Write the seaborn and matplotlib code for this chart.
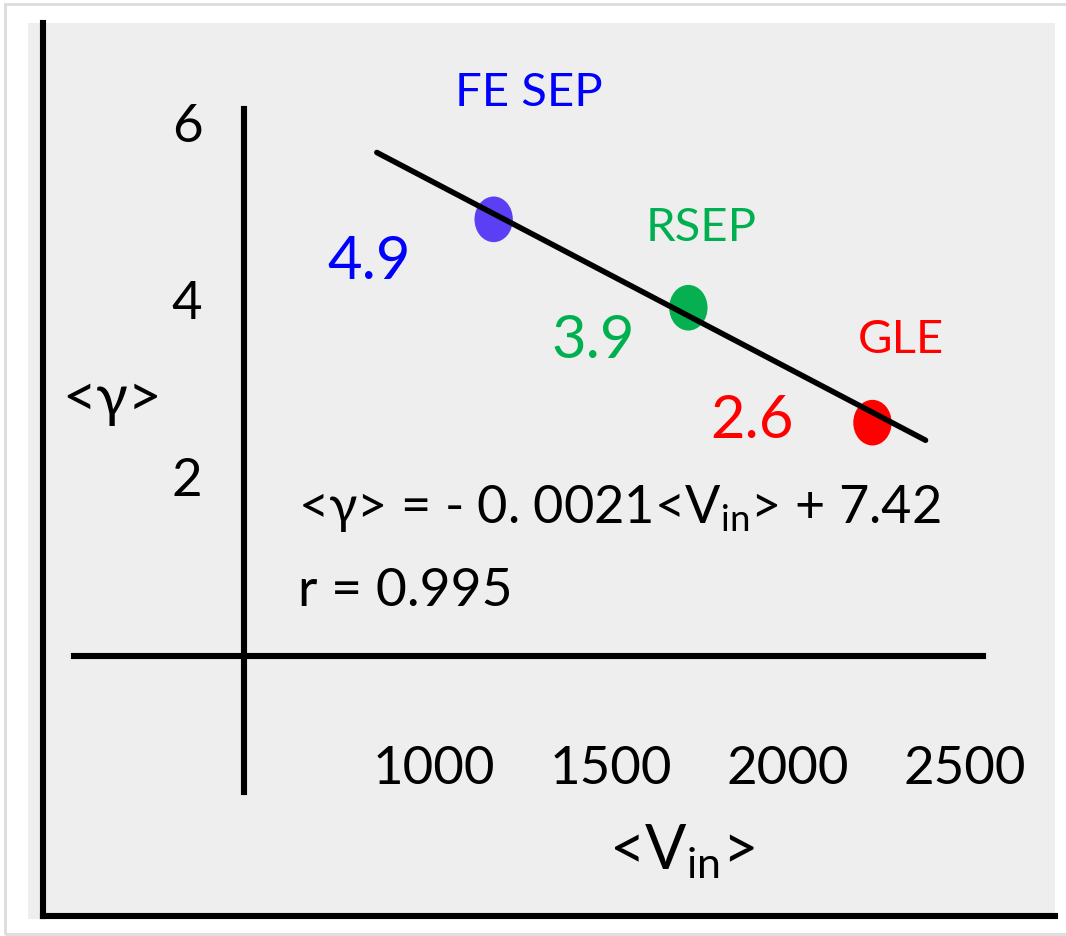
import numpy as np
import pandas as pd
import matplotlib
matplotlib.use("Agg")
import matplotlib.pyplot as plt
import seaborn as sns
from matplotlib.path import Path
from matplotlib.patches import Rectangle

# Mean spectral index <γ> versus mean inflow speed <V_in> for three event classes
events = ["FE SEP", "RSEP", "GLE"]
gamma_mean = [4.9, 3.9, 2.6]
v_in_mean = [1170, 1720, 2240]
point_colors = ["#5a3ff5", "#06b050", "#ff0000"]
text_colors = ["#0000ff", "#00b050", "#ff0000"]

# Linear regression  <γ> = slope * <V_in> + intercept
fit_slope = -0.0021
fit_intercept = 7.42
fit_r = 0.995
fit_v_range = [840, 2390]

x_ticks = [1000, 1500, 2000, 2500]
y_ticks = [2, 4, 6]

# label placement around each point (pixels)
name_offsets = [(35, 127), (13, 81), (28, 84)]
value_offsets = [(-125, -42), (-95, -32), (-120, 3)]

sns.set_theme(style="white")
plt.rcParams["font.family"] = ["Lato", "DejaVu Sans"]
plt.rcParams["mathtext.fontset"] = "custom"
plt.rcParams["mathtext.rm"] = "Lato"
plt.rcParams["mathtext.it"] = "Lato:italic"
plt.rcParams["mathtext.fallback"] = "stixsans"

W, H = 1066, 937
fig = plt.figure(figsize=(W / 100, H / 100), dpi=100, facecolor="white")


def fx(px):
    return px / W


def fy(py):
    return 1 - py / H


# thin page border
fig.add_artist(Rectangle((fx(5), fy(935)), 1.2, fy(5) - fy(935),
                         transform=fig.transFigure, fill=False,
                         edgecolor="#dcdcdc", lw=2.0))

# grey panel with heavy frame on the left and bottom
bg = fig.add_axes([fx(28), fy(920), fx(1055) - fx(28), fy(24) - fy(920)])
bg.set_facecolor("#eeeeee")
bg.set_xlim(0, 1)
bg.set_ylim(0, 1)
bg.set_xticks([])
bg.set_yticks([])
for s in ["top", "right"]:
    bg.spines[s].set_visible(False)
lx = (43 - 28) / (1055 - 28)
ly = (920 - 917) / (920 - 24)
bg.spines["left"].set_position(("data", lx))
bg.spines["left"].set_bounds(ly, 1)
bg.spines["bottom"].set_position(("data", ly))
bg.spines["bottom"].set_bounds(lx, 1)
for s in ["left", "bottom"]:
    bg.spines[s].set_linewidth(4.4)
    bg.spines[s].set_color("black")

# main axes
ax = fig.add_axes([fx(74), fy(793), fx(983) - fx(74), fy(110) - fy(793)])
ax.set_facecolor("none")

df = pd.DataFrame({"event": events, "v_in": v_in_mean, "gamma": gamma_mean})
circle = Path.unit_circle()
ellipse = Path(circle.vertices * np.array([0.84, 1.0]), circle.codes)
sns.scatterplot(data=df, x="v_in", y="gamma", hue="event",
                palette=dict(zip(events, point_colors)), marker=ellipse,
                s=1080, linewidth=0, legend=False, ax=ax, zorder=3)

fit_v = np.array(fit_v_range, dtype=float)
fit_df = pd.DataFrame({"v_in": fit_v, "gamma": fit_slope * fit_v + fit_intercept})
sns.lineplot(data=fit_df, x="v_in", y="gamma", color="black", lw=4.0,
             ax=ax, zorder=4)

for i, ev in enumerate(events):
    ax.annotate(ev, (v_in_mean[i], gamma_mean[i]), xytext=name_offsets[i],
                textcoords="offset pixels", ha="center", va="center",
                fontsize=34, color=text_colors[i])
    ax.annotate(f"{gamma_mean[i]:.1f}", (v_in_mean[i], gamma_mean[i]),
                xytext=value_offsets[i], textcoords="offset pixels",
                ha="center", va="center", fontsize=43, color=text_colors[i])

eq = (f"<γ> = - 0. {abs(fit_slope):.4f}".replace("0.00", "00", 1)
      + r"<V$_{\mathrm{in}}$>" + f" + {fit_intercept:.2f}")
ax.text(0.2464, 0.3953, eq, transform=ax.transAxes, ha="left",
        va="baseline", fontsize=37.6, color="black")
ax.text(0.2464, 0.2738, f"r = {fit_r:.3f}", transform=ax.transAxes,
        ha="left", va="baseline", fontsize=38.5, color="black")

ax.set_xlim(-15.5, 2552.3)
ax.set_ylim(-1.578, 6.148)
ax.set_xticks(x_ticks)
ax.set_xticklabels([str(v) for v in x_ticks])
ax.set_yticks(y_ticks)
ax.set_yticklabels([str(v) for v in y_ticks])
ax.tick_params(axis="x", length=0, pad=64, labelsize=38, colors="black")
ax.tick_params(axis="y", length=0, pad=30, labelsize=38, colors="black")

for s in ["top", "right"]:
    ax.spines[s].set_visible(False)
ax.spines["left"].set_position(("axes", (244 - 74) / (983 - 74)))
ax.spines["bottom"].set_position(("axes", (793 - 657) / (793 - 110)))
for s in ["left", "bottom"]:
    ax.spines[s].set_linewidth(4.4)
    ax.spines[s].set_color("black")

ax.set_xlabel(r"<V$_{\mathrm{in}}$>", fontsize=44, color="black",
              ha="center", va="center")
ax.xaxis.set_label_coords((682 - 74) / (983 - 74), (793 - 852) / (793 - 110))
ax.set_ylabel("<γ>", fontsize=42, rotation=0, color="black",
              ha="center", va="center")
ax.yaxis.set_label_coords((112 - 74) / (983 - 74), (793 - 400) / (793 - 110))

fig.savefig("out.png", dpi=100, facecolor="white")
